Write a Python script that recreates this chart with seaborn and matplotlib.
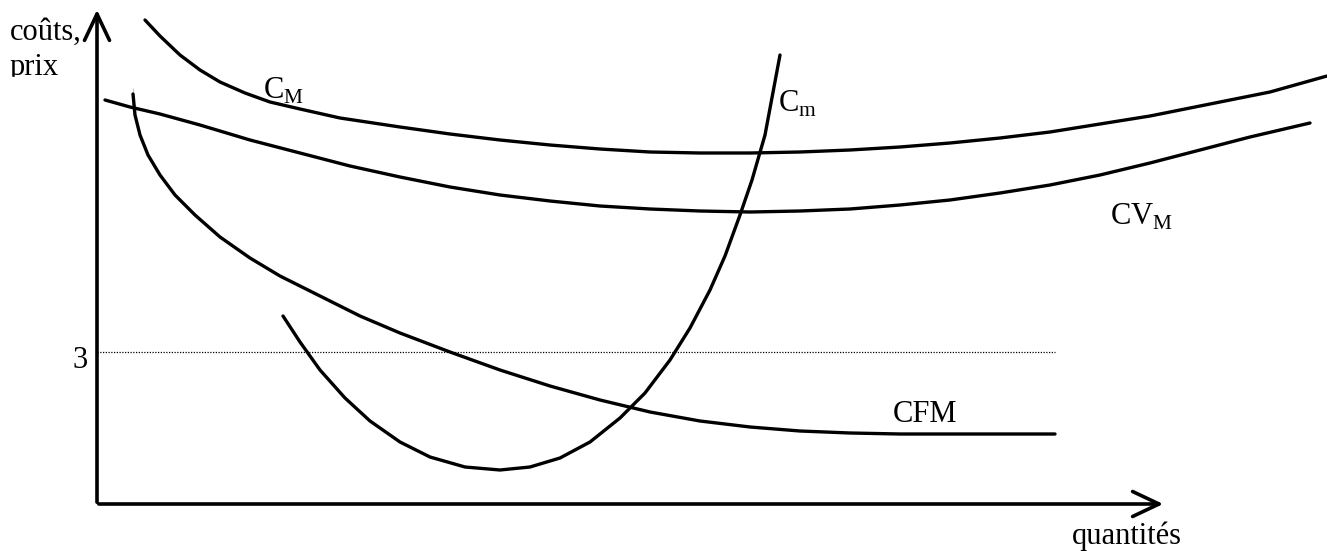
import matplotlib
matplotlib.use("Agg")
import matplotlib.pyplot as plt
from matplotlib.patches import Rectangle
import seaborn as sns
import pandas as pd

# courbes (coordonnées en pixels, y vers le bas)
cm_x = [145, 160, 180, 200, 220, 245, 270, 300, 340, 400, 450, 500, 550, 600, 650, 700,
        750, 800, 850, 900, 950, 1000, 1050, 1100, 1150, 1200, 1270, 1327]
cm_y = [20, 36, 55, 70, 82, 93, 102, 109, 118, 127, 134, 140, 145, 149, 152, 153,
        153, 152, 150, 147, 143, 138, 132, 124, 116, 106, 92, 76]

cvm_x = [105, 130, 160, 200, 250, 300, 350, 400, 450, 500, 550, 600, 650, 700, 750, 800,
         850, 900, 950, 1000, 1050, 1100, 1150, 1200, 1250, 1310]
cvm_y = [100, 107, 114, 125, 140, 153, 166, 177, 187, 195, 201, 206, 209, 211, 212, 211,
         209, 205, 200, 193, 185, 175, 163, 150, 137, 123]

cfm_x = [133, 133, 135, 140, 148, 160, 175, 195, 220, 250, 280, 320, 360, 400, 450, 500,
         550, 600, 650, 700, 750, 800, 850, 900, 1055]
cfm_y = [88, 100, 115, 135, 155, 175, 195, 215, 237, 258, 276, 296, 316, 333, 352, 370,
         386, 400, 412, 421, 427, 431, 433, 434, 434]

cmarg_x = [283, 300, 320, 345, 370, 400, 430, 465, 500, 530, 560, 590, 620, 645, 670, 690,
           710, 725, 740, 752, 765, 780]
cmarg_y = [316, 342, 370, 398, 421, 442, 457, 467, 470, 467, 458, 442, 418, 393, 360, 328,
           290, 256, 215, 180, 135, 55]

niveau_3 = 352
axe_x0, axe_y0 = 97, 504

sns.set_style("white")
plt.rcParams["font.family"] = ["Liberation Serif", "DejaVu Serif"]
plt.rcParams["mathtext.fontset"] = "custom"
plt.rcParams["mathtext.rm"] = "Liberation Serif"
plt.rcParams["text.color"] = "black"

fig = plt.figure(figsize=(13.27, 5.51), dpi=100)
ax = fig.add_axes([0, 0, 1, 1])

for xs, ys in [(cm_x, cm_y), (cvm_x, cvm_y), (cfm_x, cfm_y), (cmarg_x, cmarg_y)]:
    df = pd.DataFrame({"x": xs, "y": ys})
    sns.lineplot(data=df, x="x", y="y", sort=False, color="black", lw=2.4, ax=ax)

# ligne pointillée au niveau 3
ax.plot([axe_x0, 1055], [niveau_3, niveau_3], color="black", lw=0.9, ls=(0, (1, 1.2)))

# axes avec flèches
fleche = dict(arrowstyle="->,head_length=1.9,head_width=0.9", lw=2.6, color="black")
ax.annotate("", xy=(axe_x0, 7), xytext=(axe_x0, axe_y0 + 1), arrowprops=fleche)
ax.annotate("", xy=(1166, axe_y0), xytext=(axe_x0 - 1, axe_y0), arrowprops=fleche)

fs = 22
ax.text(10, 40, "coûts,", fontsize=fs, va="baseline", ha="left", color="black")
ax.text(10, 75, "prix", fontsize=fs, va="baseline", ha="left", color="black")
# le bas de « prix » est coupé dans l'original
ax.add_patch(Rectangle((0, 76.5), 70, 20, color="white", zorder=5))
ax.text(263, 99, r"C$_{\mathrm{M}}$", fontsize=fs, va="baseline", ha="left", color="black")
ax.text(778, 112, r"C$_{\mathrm{m}}$", fontsize=fs, va="baseline", ha="left", color="black")
ax.text(1110, 225, r"CV$_{\mathrm{M}}$", fontsize=fs, va="baseline", ha="left", color="black")
ax.text(893, 422, "CFM", fontsize=fs, va="baseline", ha="left", color="black")
ax.text(72, 368, "3", fontsize=fs, va="baseline", ha="left", color="black")
ax.text(1072, 544, "quantités", fontsize=fs, va="baseline", ha="left", color="black")

ax.set_xlim(0, 1327)
ax.set_ylim(551, 0)
ax.set_axis_off()

fig.savefig("out.png", dpi=100)
